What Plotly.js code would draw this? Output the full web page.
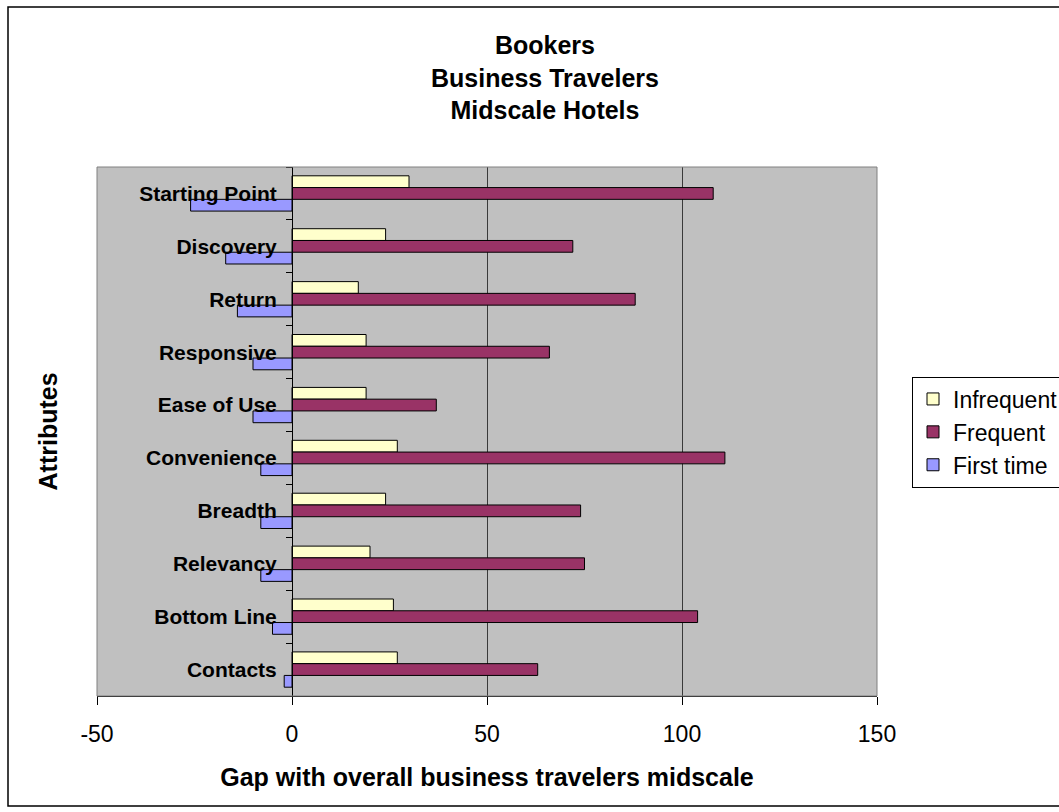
<!DOCTYPE html>
<html>
<head>
<meta charset="utf-8">
<script src="https://cdn.plot.ly/plotly-3.0.1.min.js"></script>
<style>
  html, body { margin: 0; padding: 0; background: #ffffff; }
  #chart { width: 1059px; height: 812px; }
</style>
</head>
<body>
<div id="chart"></div>
<script>
// Categories listed top-to-bottom as they appear in the chart
const categories = ["Starting Point", "Discovery", "Return", "Responsive", "Ease of Use",
                    "Convenience", "Breadth", "Relevancy", "Bottom Line", "Contacts"];
const infrequent = [30, 24, 17, 19, 19, 27, 24, 20, 26, 27];
const frequent   = [108, 72, 88, 66, 37, 111, 74, 75, 104, 63];
const firstTime  = [-26, -17, -14, -10, -10, -8, -8, -8, -5, -2];
const seriesNames = ["Infrequent", "Frequent", "First time"];
const xTickVals = [-50, 0, 50, 100, 150];

const FONT = "Arial, 'Liberation Sans', sans-serif";
const outline = { color: "#000000", width: 1 };

const traces = [
  { type: "bar", orientation: "h", name: seriesNames[0], y: categories, x: infrequent,
    marker: { color: "#FFFFCC", line: outline }, hoverinfo: "x+y" },
  { type: "bar", orientation: "h", name: seriesNames[1], y: categories, x: frequent,
    marker: { color: "#993366", line: outline }, hoverinfo: "x+y" },
  { type: "bar", orientation: "h", name: seriesNames[2], y: categories, x: firstTime,
    marker: { color: "#9999FF", line: outline }, hoverinfo: "x+y" }
];

// plot area in pixels: x 97..877, y 167..696
const W = 1059, H = 812, L = 97, R = 877, T = 167, B = 696;
const pw = R - L, ph = B - T;
const px = v => (v - L) / pw;
const py = v => (B - v) / ph;

const layout = {
  width: W, height: H,
  paper_bgcolor: "#ffffff",
  plot_bgcolor: "#C0C0C0",
  font: { family: FONT, color: "#000000", size: 21 },
  margin: { l: L, r: W - R, t: T, b: H - B, autoexpand: false },
  barmode: "group",
  bargap: 0.333,
  bargroupgap: 0,
  showlegend: true,
  title: {
    text: "<b>Bookers<br>Business Travelers<br>Midscale Hotels</b>",
    font: { family: FONT, size: 25, color: "#000000" },
    xref: "container", x: 545 / W, xanchor: "center",
    yref: "container", y: 1 - 54 / H, yanchor: "middle"
  },
  xaxis: {
    range: [-50, 150],
    tickvals: xTickVals,
    ticktext: xTickVals.map(String),
    ticks: "outside", ticklen: 8, tickwidth: 1, tickcolor: "#000000",
    ticklabelstandoff: 9,
    tickfont: { family: FONT, size: 23, color: "#000000" },
    showgrid: true, gridcolor: "#3a3a3a", gridwidth: 1,
    zeroline: false,
    showline: true, linecolor: "#000000", linewidth: 1,
    fixedrange: true,
    title: {
      text: "<b>Gap with overall business travelers midscale</b>",
      font: { family: FONT, size: 25, color: "#000000" },
      standoff: 22
    }
  },
  yaxis: {
    type: "category",
    autorange: "reversed",
    anchor: "free",
    position: px(292),
    side: "left",
    showline: true, linecolor: "#000000", linewidth: 1,
    ticks: "outside", ticklen: 6, tickwidth: 1, tickcolor: "#000000",
    tickson: "boundaries",
    ticklabelstandoff: 11,
    tickfont: { family: FONT, size: 21, color: "#000000", weight: "bold" },
    showgrid: false, zeroline: false,
    fixedrange: true
  },
  legend: {
    x: px(912), xanchor: "left",
    y: py(432), yanchor: "middle",
    bgcolor: "#ffffff",
    bordercolor: "#000000", borderwidth: 1,
    font: { family: FONT, size: 23, color: "#000000" },
    traceorder: "normal",
    itemwidth: 30,
    tracegroupgap: 0
  },
  annotations: [
    {
      text: "<b>Attributes</b>",
      xref: "paper", yref: "paper",
      x: px(47), y: 0.5, xanchor: "center", yanchor: "middle",
      textangle: -90, showarrow: false,
      font: { family: FONT, size: 25, color: "#000000" }
    }
  ],
  shapes: [
    { type: "rect", xref: "paper", yref: "paper", x0: 0, x1: 1, y0: 0, y1: 1,
      line: { color: "#808080", width: 1 }, fillcolor: "rgba(0,0,0,0)", layer: "above" },
    { type: "rect", xref: "paper", yref: "paper",
      x0: px(8), x1: px(1075), y0: py(806), y1: py(7),
      line: { color: "#000000", width: 1.5 }, fillcolor: "rgba(0,0,0,0)", layer: "below" }
  ]
};

Plotly.newPlot("chart", traces, layout, { displayModeBar: false, staticPlot: true });
</script>
</body>
</html>
